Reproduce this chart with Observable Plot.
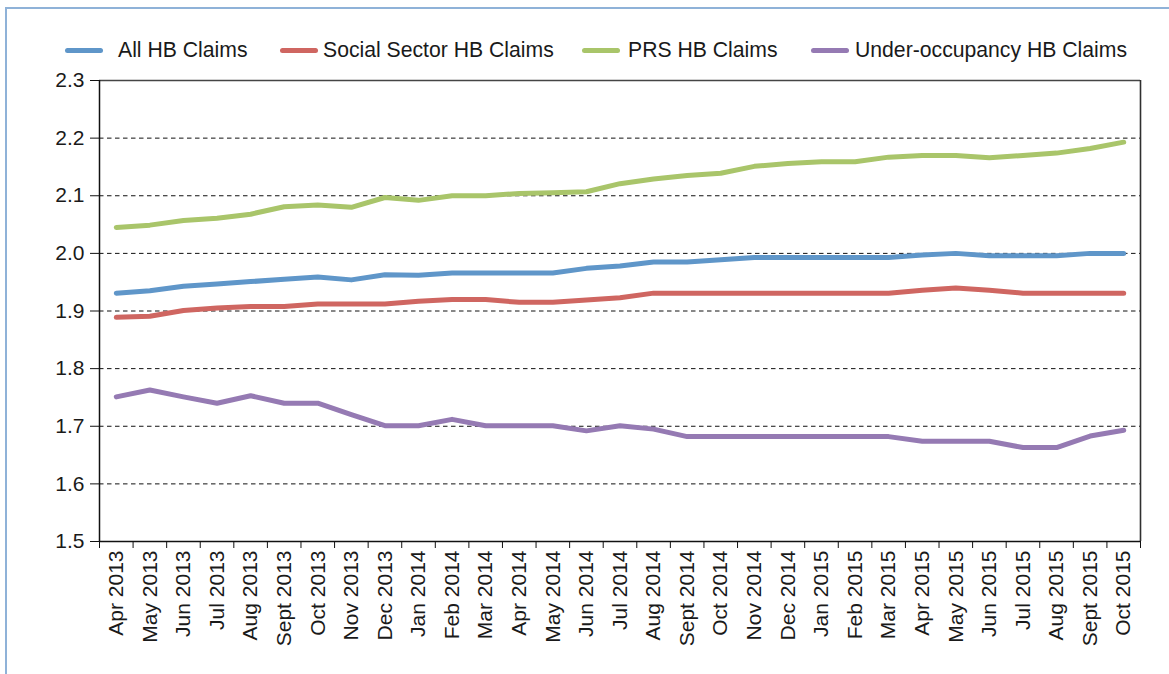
<!DOCTYPE html>
<html>
<head>
<meta charset="utf-8">
<script src="https://cdn.jsdelivr.net/npm/d3@7"></script>
<script src="https://cdn.jsdelivr.net/npm/@observablehq/plot@0.6"></script>
<style>
  body { margin: 0; background: #fff; font-family: "Liberation Sans", Arial, sans-serif; }
  #wrap { position: relative; width: 1169px; height: 674px; overflow: hidden; }
  #border { position: absolute; left: 5px; top: 7px; width: 1300px; height: 800px; border: 2px solid #8fb2d8; box-sizing: border-box; }
  #legend { position: absolute; left: 0; top: 0; width: 1169px; height: 70px; }
  .item { position: absolute; top: 38px; height: 24px; line-height: 24px; font-size: 21.2px; color: #1a1a1a; display: flex; align-items: center; white-space: nowrap; }
  .sw { display: inline-block; width: 38px; height: 5px; border-radius: 3px; }
  #chart { position: absolute; left: 0; top: 70px; }
</style>
</head>
<body>
<div id="wrap">
  <div id="border"></div>
  <div id="legend"></div>
  <div id="chart"></div>
</div>
<script>
const months = ["Apr 2013","May 2013","Jun 2013","Jul 2013","Aug 2013","Sept 2013","Oct 2013","Nov 2013","Dec 2013","Jan 2014","Feb 2014","Mar 2014","Apr 2014","May 2014","Jun 2014","Jul 2014","Aug 2014","Sept 2014","Oct 2014","Nov 2014","Dec 2014","Jan 2015","Feb 2015","Mar 2015","Apr 2015","May 2015","Jun 2015","Jul 2015","Aug 2015","Sept 2015","Oct 2015"];

const seriesNames = ["All HB Claims", "Social Sector HB Claims", "PRS HB Claims", "Under-occupancy HB Claims"];
const seriesColors = ["#5f96c9", "#cf6661", "#a9c56a", "#957ab3"];

const allHB = [1.931,1.935,1.943,1.947,1.951,1.955,1.959,1.954,1.963,1.962,1.966,
               1.966,1.966,1.966,1.974,1.978,1.985,1.985,1.989,1.993,1.993,
               1.993,1.993,1.993,1.997,2.000,1.996,1.996,1.996,2.000,2.000];
const socialHB = [1.889,1.891,1.901,1.905,1.908,1.908,1.912,1.912,1.912,1.917,1.920,
                  1.920,1.915,1.915,1.919,1.923,1.931,1.931,1.931,1.931,1.931,
                  1.931,1.931,1.931,1.936,1.940,1.936,1.931,1.931,1.931,1.931];
const prsHB = [2.045,2.049,2.057,2.061,2.068,2.081,2.084,2.080,2.097,2.092,2.100,
               2.100,2.104,2.105,2.107,2.121,2.129,2.135,2.139,2.151,2.156,
               2.159,2.159,2.167,2.170,2.170,2.166,2.170,2.174,2.182,2.193];
const underOccHB = [1.751,1.763,1.751,1.740,1.753,1.740,1.740,1.720,1.701,1.701,1.712,
                    1.701,1.701,1.701,1.692,1.701,1.695,1.682,1.682,1.682,1.682,
                    1.682,1.682,1.682,1.674,1.674,1.674,1.663,1.663,1.683,1.693];

const yTicks = [1.5, 1.6, 1.7, 1.8, 1.9, 2.0, 2.1, 2.2, 2.3];
const yGrid = [1.6, 1.7, 1.8, 1.9, 2.0, 2.1, 2.2];

const seriesValues = [allHB, socialHB, prsHB, underOccHB];
const data = seriesValues.flatMap((vals, k) => vals.map((v, i) => ({i, v, name: seriesNames[k]})));

// Legend (HTML above the SVG)
const legendPos = [{left: 65, gap: 15}, {left: 280, gap: 5}, {left: 582, gap: 8}, {left: 811, gap: 6}];
const legend = document.getElementById("legend");
seriesNames.forEach((n, k) => {
  const it = document.createElement("div");
  it.className = "item";
  it.style.left = legendPos[k].left + "px";
  const sw = document.createElement("span");
  sw.className = "sw";
  sw.style.background = seriesColors[k];
  sw.style.marginRight = legendPos[k].gap + "px";
  const tx = document.createElement("span");
  tx.textContent = n;
  it.appendChild(sw); it.appendChild(tx);
  legend.appendChild(it);
});

const n = months.length;
const font = '"Liberation Sans", Arial, sans-serif';

const chart = Plot.plot({
  width: 1169,
  height: 604,
  marginLeft: 99,
  marginRight: 29,
  marginTop: 10,
  marginBottom: 133,
  style: {fontFamily: font, fontSize: "21px", color: "#1a1a1a", background: "transparent", overflow: "visible"},
  x: {domain: [-0.5, n - 0.5], axis: null},
  y: {domain: [1.5, 2.3], axis: null},
  color: {domain: seriesNames, range: seriesColors},
  marks: [
    Plot.ruleY(yGrid, {stroke: "#111", strokeWidth: 1, strokeDasharray: "4.5,3.5"}),
    Plot.line(data, {x: "i", y: "v", z: "name", stroke: "name", strokeWidth: 5, strokeLinecap: "round", strokeLinejoin: "round"}),
    Plot.ruleY([2.3], {stroke: "#454545", strokeWidth: 1.6}),
    Plot.ruleX([n - 0.5], {stroke: "#303030", strokeWidth: 1.6}),
    Plot.ruleX([-0.5], {stroke: "#111", strokeWidth: 1.5}),
    Plot.ruleY([1.5], {stroke: "#111", strokeWidth: 1.5}),
    Plot.axisY({ticks: yTicks, tickFormat: d3.format(".1f"), tickSize: 9, tickPadding: 6, fontSize: 21, stroke: "#111", label: null}),
    Plot.axisX({ticks: d3.range(n + 1).map(i => i - 0.5), tickSize: 7, tickFormat: () => "", stroke: "#111", label: null}),
    Plot.axisX({ticks: d3.range(n), tickSize: 0, tickPadding: 9, tickRotate: -90, textAnchor: "end", tickFormat: i => months[i], fontSize: 21, label: null})
  ]
});
document.getElementById("chart").appendChild(chart);
</script>
</body>
</html>
